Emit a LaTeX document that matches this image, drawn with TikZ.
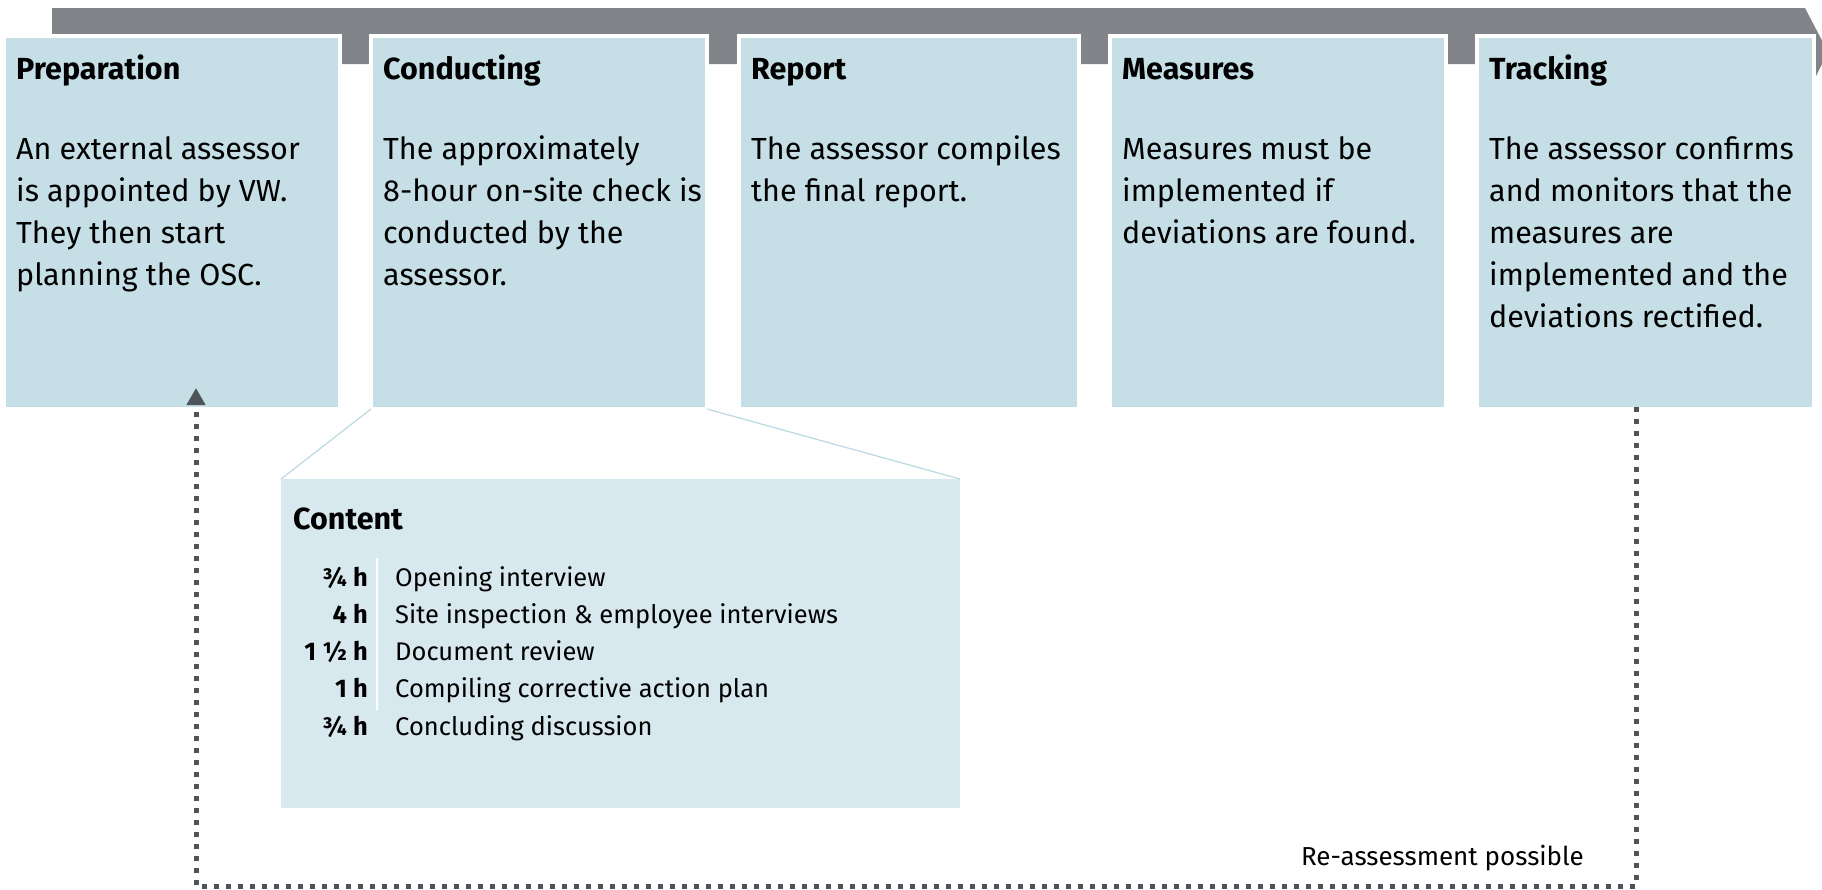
\documentclass[tikz,border=0pt]{standalone}
\usepackage{fontspec}
\setmainfont{Fira Sans}
\usetikzlibrary{calc,arrows.meta}
\definecolor{boxblue}{HTML}{C6DFE6}
\definecolor{contentblue}{HTML}{D7E8EF}
\definecolor{bargray}{HTML}{818589}
\definecolor{dotgray}{HTML}{4D5358}
\definecolor{connblue}{HTML}{BBD8E2}
\tikzset{
  stepbox/.style={fill=boxblue, draw=white, line width=4pt, outer sep=0pt, inner sep=0pt},
  contentbox/.style={fill=contentblue, outer sep=0pt, inner sep=0pt},
  headtext/.style={anchor=base west, inner sep=0pt, font=\fontsize{30.5}{42}\selectfont\bfseries},
  bodytext/.style={anchor=base west, inner sep=0pt, font=\fontsize{30.5}{42}\selectfont},
  rowtext/.style={inner sep=0pt, font=\fontsize{25.5}{37.25}\selectfont},
  conn/.style={draw=connblue, line width=1.2pt},
  dotline/.style={draw=dotgray, line width=5pt, dash pattern=on 5pt off 7pt, -{Triangle[width=18pt,length=17pt]}},
}
\begin{document}
\begin{tikzpicture}[x=1pt,y=-1pt]
\useasboundingbox (0,0) rectangle (1822,889);
% top process bar
\fill[bargray] (52,8) -- (1805,8) -- (1828,52) -- (1810,88) -- (1810,64) -- (52,64) -- cycle;
% step boxes
\node[stepbox, minimum width=336pt, minimum height=373pt] (prep) at (172,222.5) {};
\node[stepbox, minimum width=336pt, minimum height=373pt] (cond) at (539,222.5) {};
\node[stepbox, minimum width=340pt, minimum height=373pt] (rep) at (909,222.5) {};
\node[stepbox, minimum width=336pt, minimum height=373pt] (meas) at (1278,222.5) {};
\node[stepbox, minimum width=337pt, minimum height=373pt] (track) at (1645.5,222.5) {};
% headings
\node[headtext] (prepH) at ($(prep.north west)+(12,43)$) {Preparation};
\node[headtext] (condH) at ($(cond.north west)+(12,43)$) {Conducting};
\node[headtext] (repH) at ($(rep.north west)+(12,43)$) {Report};
\node[headtext] (measH) at ($(meas.north west)+(12,43)$) {Measures};
\node[headtext] (trackH) at ($(track.north west)+(12,43)$) {Tracking};
% bodies
\node[bodytext] (prepB) at ($(prep.north west)+(12,123)$) {\parbox[t]{330pt}{\raggedright An external assessor\\is appointed by VW.\\They then start\\planning the OSC.}};
\node[bodytext] (condB) at ($(cond.north west)+(12,123)$) {\parbox[t]{330pt}{\raggedright The approximately\\8-hour on-site check is\\conducted by the\\assessor.}};
\node[bodytext] (repB) at ($(rep.north west)+(12,123)$) {\parbox[t]{330pt}{\raggedright The assessor compiles\\the final report.}};
\node[bodytext] (measB) at ($(meas.north west)+(12,123)$) {\parbox[t]{330pt}{\raggedright Measures must be\\implemented if\\deviations are found.}};
\node[bodytext] (trackB) at ($(track.north west)+(12,123)$) {\parbox[t]{330pt}{\raggedright The assessor confirms\\and monitors that the\\measures are\\implemented and the\\deviations rectified.}};
% content box
\node[contentbox, minimum width=679pt, minimum height=329pt] (content) at (620.5,643.5) {};
\draw[conn] (cond.south west) -- (content.north west);
\draw[conn] (cond.south east) -- (content.north east);
\node[headtext] (contentH) at ($(content.north west)+(12,50)$) {Content};
\node[rowtext, anchor=base east] (times) at ($(content.north west)+(87,107)$) {\parbox[t]{100pt}{\raggedleft\bfseries ¾ h\\4 h\\1 ½ h\\1 h\\¾ h}};
\node[rowtext, anchor=base west] (tasks) at ($(content.north west)+(114,107)$) {\parbox[t]{500pt}{\raggedright Opening interview\\Site inspection \& employee interviews\\Document review\\Compiling corrective action plan\\Concluding discussion}};
\coordinate (sepTop) at ($(content.north west)+(96,79)$);
\coordinate (sepBot) at ($(content.north west)+(96,231)$);
\draw[white, line width=1.5pt] (sepTop) -- (sepBot);
% re-assessment loop
\coordinate (loopStart) at ($(track.south west)+(159,-2)$);
\coordinate (loopEnd) at ($(prep.south west)+(192,-21)$);
\draw[dotline] (loopStart) -- ++(0,479) -| (loopEnd);
\node[anchor=base east, inner sep=0pt, font=\fontsize{26}{30}\selectfont] (reassess) at (1584,865) {Re-assessment possible};
\end{tikzpicture}
\end{document}
